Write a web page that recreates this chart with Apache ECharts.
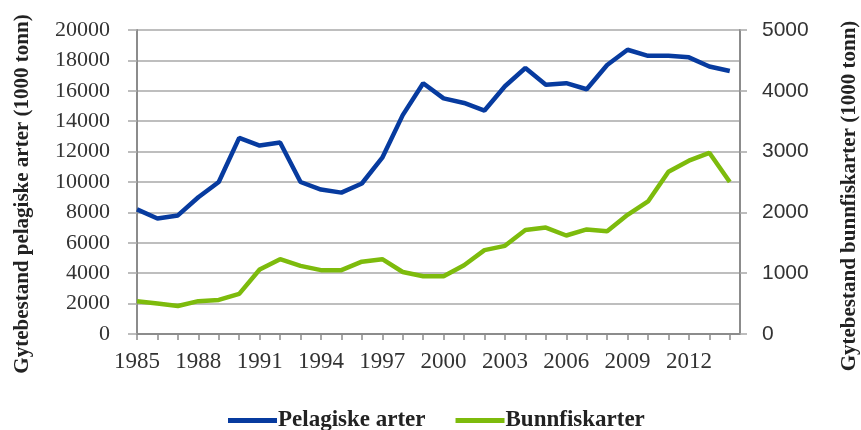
<!DOCTYPE html>
<html>
<head>
<meta charset="utf-8">
<script src="https://cdn.jsdelivr.net/npm/echarts@6/dist/echarts.min.js"></script>
<style>
	html,body{margin:0;padding:0;background:#fff;}
	#chart{width:861px;height:430px;}
</style>
</head>
<body>
<div id="chart"></div>
<script>
	//årstall
	var years = [1985,1986,1987,1988,1989,1990,1991,1992,1993,1994,1995,1996,1997,1998,1999,
		2000,2001,2002,2003,2004,2005,2006,2007,2008,2009,2010,2011,2012,2013,2014];
	//venstre akse, 1000 tonn
	var pelagiske = [8200,7600,7800,9000,10000,12900,12400,12600,10000,9500,9300,9900,11600,14400,16500,
		15500,15200,14700,16300,17500,16400,16500,16100,17700,18700,18300,18300,18200,17600,17300];
	//høyre akse, 1000 tonn
	var bunnfisk = [540,500,460,540,560,660,1060,1230,1120,1050,1050,1190,1230,1020,950,
		950,1130,1380,1450,1710,1750,1620,1720,1690,1960,2180,2670,2850,2980,2500];
	var xLabelYears = [1985,1988,1991,1994,1997,2000,2003,2006,2009,2012];

	var serif = '"Liberation Serif","DejaVu Serif",serif';
	var gridColor = '#a8a8a8';
	var axisColor = '#8c8c8c';

	var pairs = function(vals){
		var out = [];
		for(var i=0;i<years.length;i++){
			out.push([years[i], vals[i]]);
		}
		return out;
	};
	var plain = function(v){ return String(v); };

	var myChart = echarts.init(document.getElementById('chart'));
	var option = {
		animation:false,
		backgroundColor:'#fff',
		grid:{left:137,right:121,top:30,bottom:96},
		legend:{
			left:223,
			top:404,
			itemWidth:49,
			itemHeight:5,
			itemGap:30,
			icon:'rect',
			textStyle:{fontFamily:serif,fontSize:23,fontWeight:'bold',color:'#222',padding:[0,0,0,-4]},
			data:['Pelagiske arter','Bunnfiskarter']
		},
		xAxis:{
			type:'value',
			min:1985,
			max:2014.5,
			interval:1,
			axisLine:{show:true,lineStyle:{color:axisColor,width:2}},
			axisTick:{show:true,length:6,lineStyle:{color:axisColor,width:1.5}},
			splitLine:{show:false},
			axisLabel:{
				margin:16,
				fontFamily:serif,
				fontSize:23,
				color:'#333',
				showMaxLabel:false,
				formatter:function(v){
					return xLabelYears.indexOf(v) >= 0 ? String(v) : '';
				}
			}
		},
		yAxis:[
			{
				type:'value',
				min:0,
				max:20000,
				interval:2000,
				axisLine:{show:true,lineStyle:{color:axisColor,width:2}},
				axisTick:{show:true,inside:false,length:9,lineStyle:{color:gridColor,width:1.5}},
				splitLine:{show:true,lineStyle:{color:gridColor,width:1.5}},
				axisLabel:{margin:27,fontFamily:serif,fontSize:22,color:'#333',formatter:plain}
			},
			{
				type:'value',
				min:0,
				max:5000,
				interval:1000,
				axisLine:{show:true,lineStyle:{color:axisColor,width:2}},
				axisTick:{show:true,length:7,lineStyle:{color:gridColor,width:1.5}},
				splitLine:{show:false},
				axisLabel:{margin:22,fontFamily:'"Liberation Sans",Arial,sans-serif',fontSize:21,color:'#333',formatter:plain}
			}
		],
		graphic:[
			{
				type:'text',
				x:23,y:194,
				rotation:Math.PI/2,
				style:{text:'Gytebestand pelagiske arter (1000 tonn)',font:'bold 21px '+serif,fill:'#222',align:'center',verticalAlign:'middle'}
			},
			{
				type:'text',
				x:850,y:196,
				rotation:Math.PI/2,
				style:{text:'Gytebestand bunnfiskarter (1000 tonn)',font:'bold 21px '+serif,fill:'#222',align:'center',verticalAlign:'middle'}
			}
		],
		series:[
			{
				name:'Pelagiske arter',
				type:'line',
				yAxisIndex:0,
				symbol:'none',
				color:'#073b9f',
				lineStyle:{width:4.5,color:'#073b9f'},
				data:pairs(pelagiske)
			},
			{
				name:'Bunnfiskarter',
				type:'line',
				yAxisIndex:1,
				symbol:'none',
				color:'#7dbb0c',
				lineStyle:{width:4.5,color:'#7dbb0c'},
				data:pairs(bunnfisk)
			}
		]
	};
	myChart.setOption(option);
</script>
</body>
</html>
